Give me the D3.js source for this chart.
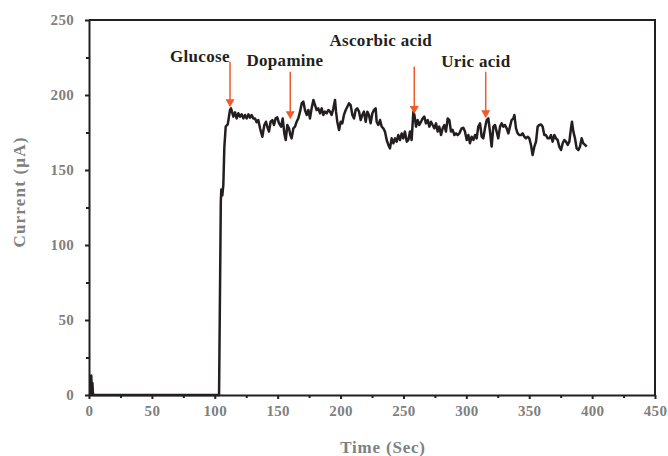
<!DOCTYPE html>
<html><head><meta charset="utf-8">
<script src="https://cdn.jsdelivr.net/npm/d3@7"></script>
<style>body{margin:0;background:#fff} svg{display:block}</style>
</head><body><svg id="c" width="668" height="456"></svg>
<script>
const timeSec = [0,1.5,1.8,2.3,2.7,3.2,103.4,104.8,105.2,106.0,106.8,107.6,108.7,110.3,112.1,112.9,114.8,116.1,117.4,118.7,120.1,121.4,122.7,124.0,125.4,126.7,128.0,129.3,130.6,132.0,133.3,134.6,136.0,137.8,139.4,140.7,142.1,143.1,144.4,145.8,147.1,148.4,149.7,151.1,152.7,154.0,155.3,156.4,157.7,159.0,160.1,161.1,162.5,163.8,165.1,166.4,167.8,169.1,170.4,171.7,173.1,174.4,175.7,177.0,178.4,179.7,181.0,182.3,183.7,185.0,186.3,187.6,189.0,190.3,191.6,192.9,194.3,195.6,196.4,197.4,198.8,200.1,201.4,202.7,204.1,205.4,206.7,208.0,209.4,210.7,212.0,213.3,214.7,216.0,217.3,218.6,220.0,221.3,222.6,223.9,225.3,226.6,227.9,228.7,230.0,231.4,232.7,234.0,235.3,236.7,238.0,239.3,240.6,242.0,243.3,244.6,245.9,247.3,248.6,249.9,251.2,252.6,253.9,255.2,256.5,257.9,258.7,260.0,261.3,262.6,264.0,265.3,266.6,267.9,269.3,270.6,271.9,273.2,274.6,275.9,277.2,278.5,279.9,281.2,282.5,283.8,285.2,286.5,287.8,289.1,290.5,291.8,293.1,294.4,296.3,297.6,298.9,300.3,301.6,302.9,304.2,305.6,306.9,308.2,309.5,310.9,312.2,313.5,314.8,316.2,317.5,318.8,320.1,321.5,322.8,324.1,325.4,326.8,328.1,329.4,330.7,332.1,333.4,334.7,336.0,337.4,338.2,339.5,340.8,342.2,343.5,344.8,346.1,347.4,348.8,350.1,351.4,352.7,354.1,355.4,356.7,358.0,359.4,360.7,362.0,363.3,364.7,366.0,367.3,368.6,370.0,371.3,372.6,373.9,375.3,376.6,377.9,379.2,380.6,381.9,383.2,384.0,385.1,386.4,387.7,389.1,390.4,391.7,393.0,394.4,395.7];
const currentUA = [0,0,13,1,8,0,0,129,137,133,140,165,179,180.4,190,191.1,185.6,188.4,184.4,187.8,185.6,187.1,184.4,186.7,184.4,187.1,184.9,186.7,184.4,184.4,181.8,183.3,177.8,172.2,180,182.2,177.8,175.6,182.2,183.3,180,184.4,185.1,181.1,178.9,184.4,174.4,170,180,177.8,173.3,171.1,177.8,178.9,182.2,184.4,188.9,194.4,195.6,190,186.7,190,184.4,191.1,196.7,193.3,190,191.1,187.8,191.1,186.7,188.9,187.8,190,188.9,186.7,191.1,196.7,188.9,182.2,176.7,182.2,181.1,186.7,190,192.2,194.4,193.3,186.7,184.4,190,191.1,188.9,183.3,186.7,188.9,182.2,188.9,186.7,181.1,187.8,190,191.1,182.2,180,183.3,178.9,177.8,175.6,170,166.7,164.4,171.1,167.8,171.1,168.9,173.3,170,174.4,171.1,175.6,168.9,170,175.6,170,188.9,186.7,178.9,183.3,180,182.2,184.4,185.6,181.1,183.3,178.9,182.2,180,177.8,181.1,175.6,178.9,173.3,177.8,180,175.6,184.4,183.3,175.6,176.7,173.3,174.4,173.3,174.4,177.8,178.2,175.6,170,173.3,167.8,172.2,170,173.3,171.1,178.9,181.1,172.2,171.1,177.8,183.3,184.4,175.6,165.6,178.9,180,175.6,171.1,178.9,181.1,178.9,180,177.8,174.4,178.9,183.3,184.4,186.7,177.8,174.4,173.3,173.3,174.4,172.2,171.1,172.2,171.1,166.7,160,165.6,168.9,178.9,180,180.4,178.9,173.3,173.3,171.1,171.1,173.3,168.9,173.3,171.1,170,165.6,163.3,167.8,170,168.9,166.7,168.9,177.8,182.2,175.6,171.1,164.4,163.3,165.6,171.1,167.8,166.7,165.6];

const xTicks = [0,50,100,150,200,250,300,350,400,450];
const xMinorTicks = [25,75,125,175,225,275,325,375,425];
const yTicks = [0,50,100,150,200,250];
const yMinorTicks = [25,75,125,175,225];
const xTitle = "Time (Sec)";
const yTitle = "Current (\u03bcA)";

// annotations (data units)
const annLabels = ["Glucose","Dopamine","Ascorbic acid","Uric acid"];
const annLabelTime = [88.2,155.8,232.0,307.5];
const annLabelCurrent = [222,219.3,232.7,218.9];
const annArrowTime = [112.1,160.0,258.6,315.4];
const annArrowTop = [222.2,215.5,218.9,215.5];
const annArrowTip = [191.8,183.8,187.3,184.5];

const svg = d3.select("#c");
const L = 89, R = 655, T = 20, B = 395;
const x = d3.scaleLinear().domain([0,450]).range([L,R]);
const y = d3.scaleLinear().domain([0,250]).range([B,T]);
const ink = "#231f20", grey = "#808080", arrowCol = "#f05a28";
const serif = "'Liberation Serif','Times New Roman',serif";

// frame top & right
svg.append("path").attr("d",`M${L},${T}H${R}V${B}`).attr("fill","none").attr("stroke",ink).attr("stroke-width",2);

function styleAxis(g){
  g.select(".domain").attr("stroke",ink).attr("stroke-width",2);
  g.selectAll(".tick line").attr("stroke",ink).attr("stroke-width",2);
  g.selectAll(".tick text").attr("fill",grey).attr("font-family",serif).attr("font-weight","bold").attr("font-size",15).attr("letter-spacing","0.3px");
}

const gx = svg.append("g").attr("transform",`translate(0,${B})`)
  .call(d3.axisBottom(x).tickValues(xTicks).tickSize(4).tickSizeOuter(0).tickPadding(6));
styleAxis(gx);
const gxm = svg.append("g").attr("transform",`translate(0,${B})`)
  .call(d3.axisBottom(x).tickValues(xMinorTicks).tickSize(3).tickFormat(""));
gxm.select(".domain").remove();
gxm.selectAll(".tick line").attr("stroke",ink).attr("stroke-width",2);

const gy = svg.append("g").attr("transform",`translate(${L},0)`)
  .call(d3.axisLeft(y).tickValues(yTicks).tickSize(4).tickSizeOuter(0).tickPadding(11));
styleAxis(gy);
const gym = svg.append("g").attr("transform",`translate(${L},0)`)
  .call(d3.axisLeft(y).tickValues(yMinorTicks).tickSize(3).tickFormat(""));
gym.select(".domain").remove();
gym.selectAll(".tick line").attr("stroke",ink).attr("stroke-width",2);

// titles
svg.append("text").attr("x",383).attr("y",453).attr("text-anchor","middle")
  .attr("font-family",serif).attr("font-weight","bold").attr("font-size",17).attr("letter-spacing","0.8px")
  .attr("fill",grey).text(xTitle);
svg.append("text").attr("transform","translate(25,192) rotate(-90)").attr("text-anchor","middle")
  .attr("font-family",serif).attr("font-weight","bold").attr("font-size",17).attr("letter-spacing","1.2px")
  .attr("fill",grey).text(yTitle);

// data line
const pts = timeSec.map((t,i)=>[t,currentUA[i]]);
svg.append("path").datum(pts)
  .attr("d",d3.line().x(d=>x(d[0])).y(d=>y(d[1])))
  .attr("fill","none").attr("stroke",ink).attr("stroke-width",2.5).attr("stroke-linejoin","round");

// annotations
annLabels.forEach((lab,i)=>{
  const ax = x(annArrowTime[i]), top = y(annArrowTop[i]), tip = y(annArrowTip[i]);
  svg.append("line").attr("x1",ax).attr("x2",ax).attr("y1",top).attr("y2",tip-7)
    .attr("stroke",arrowCol).attr("stroke-width",1.5);
  svg.append("path").attr("d",`M${ax-4.5},${tip-8}L${ax+4.5},${tip-8}L${ax},${tip}Z`).attr("fill",arrowCol);
  svg.append("text").attr("x",x(annLabelTime[i])).attr("y",y(annLabelCurrent[i])).attr("text-anchor","middle")
    .attr("font-family",serif).attr("font-weight","bold").attr("font-size",17).attr("letter-spacing","0.3px")
    .attr("fill",ink).text(lab);
});
</script></body></html>
